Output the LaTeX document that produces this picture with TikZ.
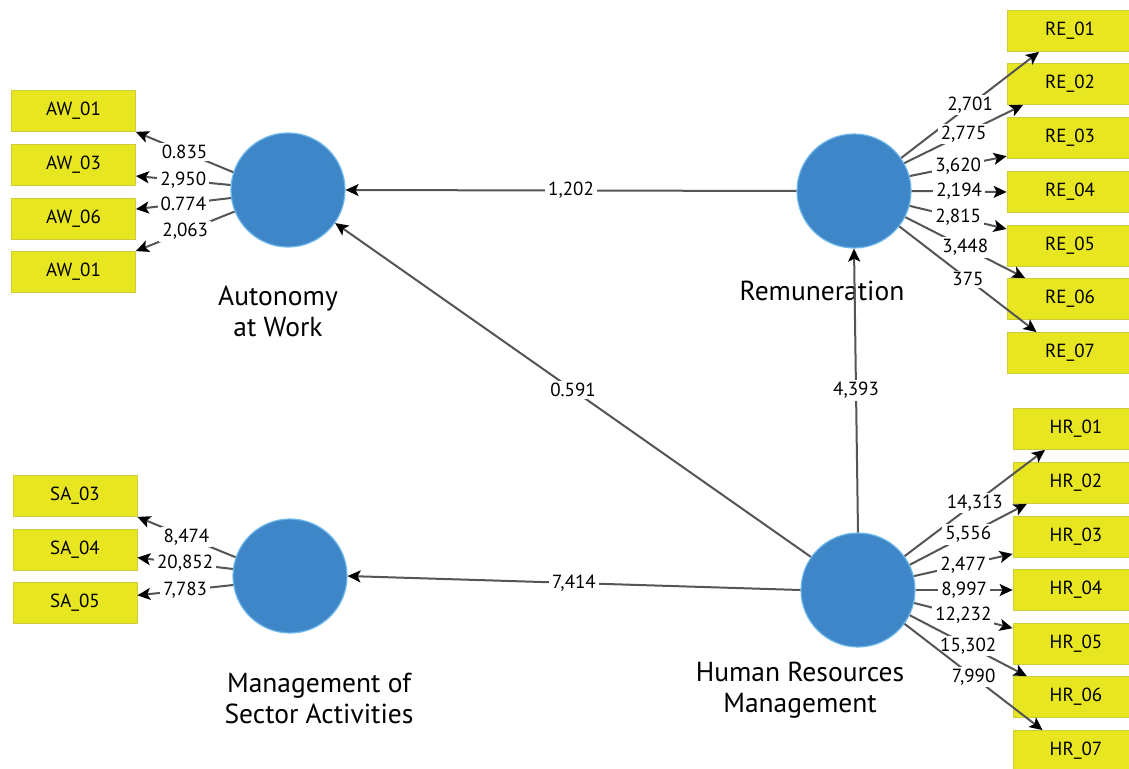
\documentclass[tikz,border=0pt]{standalone}
\usepackage{fontspec}
\setmainfont{PT Sans}
\usetikzlibrary{arrows.meta}
\definecolor{boxyellow}{RGB}{232,230,32}
\definecolor{boxedge}{RGB}{205,205,60}
\definecolor{circblue}{RGB}{62,134,200}
\definecolor{circedge}{RGB}{110,185,235}
\definecolor{linegray}{RGB}{85,85,85}
\tikzset{
  box/.style={draw=boxedge, line width=0.8pt, fill=boxyellow, minimum width=124pt, minimum height=41pt, inner sep=0pt, font=\fontsize{19}{22}\selectfont},
  lv/.style={circle, draw=circedge, line width=1.2pt, fill=circblue, minimum size=114pt, inner sep=0pt},
  lvname/.style={align=center, font=\fontsize{27.5}{31}\selectfont},
  conn/.style={draw=linegray, line width=2pt, -{Stealth[length=13pt,width=12pt,inset=3pt,color=black]}},
  lbl/.style={fill=white, inner xsep=3pt, inner ysep=2pt, text=black, font=\fontsize{19}{22}\selectfont}
}
\begin{document}
\begin{tikzpicture}[x=1pt,y=-1pt]
\useasboundingbox (0,0) rectangle (1129,768);
\clip (0,0) rectangle (1129,768);
\fill[white] (0,0) rectangle (1129,768);
% latent variables
\node[lv] (aw) at (288,190) {};
\node[lv] (re) at (854,191) {};
\node[lv] (sa) at (290,576) {};
\node[lv] (hr) at (858,590) {};
\node[lvname] (awn) at (278,311) {Autonomy\\at Work};
\node[lvname] (ren) at (822,291) {Remuneration};
\node[lvname] (san) at (319,698) {Management of\\Sector Activities};
\node[lvname] (hrn) at (800,690) {Human Resources\\Management};
% AW boxes
\node[box] (aw1) at (73.5,111) {AW\_01};
\node[box] (aw3) at (73.5,165) {AW\_03};
\node[box] (aw6) at (73.5,219) {AW\_06};
\node[box] (aw1b) at (73.5,272) {AW\_01};
% SA boxes
\node[box] (sa3) at (75,496) {SA\_03};
\node[box] (sa4) at (75,550) {SA\_04};
\node[box] (sa5) at (75,603) {SA\_05};
% RE boxes
\node[box, minimum width=126pt] (re1) at (1070,31) {RE\_01};
\node[box, minimum width=126pt] (re2) at (1070,84) {RE\_02};
\node[box, minimum width=126pt] (re3) at (1070,138) {RE\_03};
\node[box, minimum width=126pt] (re4) at (1070,192) {RE\_04};
\node[box, minimum width=126pt] (re5) at (1070,246) {RE\_05};
\node[box, minimum width=126pt] (re6) at (1070,299) {RE\_06};
\node[box, minimum width=126pt] (re7) at (1070,353) {RE\_07};
% HR boxes
\node[box, minimum width=126pt] (hr1) at (1076,429) {HR\_01};
\node[box, minimum width=126pt] (hr2) at (1076,483) {HR\_02};
\node[box, minimum width=126pt] (hr3) at (1076,537) {HR\_03};
\node[box, minimum width=126pt] (hr4) at (1076,590) {HR\_04};
\node[box, minimum width=126pt] (hr5) at (1076,644) {HR\_05};
\node[box, minimum width=126pt] (hr6) at (1076,697) {HR\_06};
\node[box, minimum width=126pt] (hr7) at (1076,751) {HR\_07};
% structural paths
\draw[conn] (re.west) -- node[lbl] {1,202} (aw.east);
\draw[conn] (hr) -- node[lbl] {0.591} (aw);
\draw[conn] (hr.north) -- node[lbl] {4,393} (re.south);
\draw[conn] (hr.west) -- node[lbl] {7,414} (sa.east);
% AW indicators
\draw[conn] (aw.162) -- node[lbl] {0.835} (aw1.south east);
\draw[conn] (aw.175) -- node[lbl] {2,950} (aw3.-10.8);
\draw[conn] (aw.188) -- node[lbl] {0.774} (aw6.9.9);
\draw[conn] (aw.202) -- node[lbl] {2,063} (aw1b.north east);
% SA indicators
\draw[conn] (sa.161.6) -- node[lbl] {8,474} (sa3.south east);
\draw[conn] (sa.173) -- node[lbl] {20,852} (sa4.-7.4);
\draw[conn] (sa.189) -- node[lbl] {7,783} (sa5.7.4);
% RE indicators
\draw[conn] (re.35) -- node[lbl] {2,701} (re1.214);
\draw[conn] (re.29) -- node[lbl] {2,775} (re2.204.5);
\draw[conn] (re.15) -- node[lbl] {3,620} (re3.196);
\draw[conn] (re.0) -- node[lbl] {2,194} (re4.west);
\draw[conn] (re.-15) -- node[lbl] {2,815} (re5.165);
\draw[conn] (re.-27) -- node[lbl] {3,448} (re6.155);
\draw[conn] (re.-38) -- node[lbl] {375} (re7.148);
% HR indicators
\draw[conn] (hr.36) -- node[lbl] {14,313} (hr1.214);
\draw[conn] (hr.26) -- node[lbl] {5,556} (hr2.203.6);
\draw[conn] (hr.14) -- node[lbl] {2,477} (hr3.195);
\draw[conn] (hr.0) -- node[lbl] {8,997} (hr4.west);
\draw[conn] (hr.-13) -- node[lbl] {12,232} (hr5.166);
\draw[conn] (hr.-26) -- node[lbl] {15,302} (hr6.157);
\draw[conn] (hr.-36.5) -- node[lbl] {7,990} (hr7.148);
\end{tikzpicture}
\end{document}
